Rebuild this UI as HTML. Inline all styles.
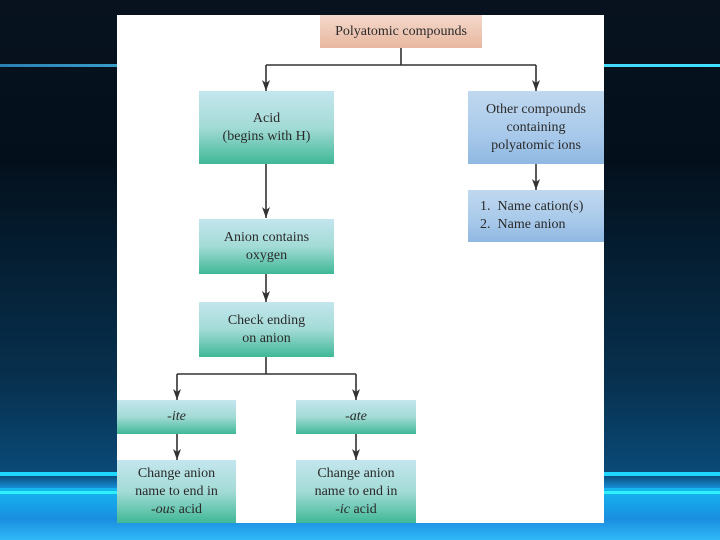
<!DOCTYPE html>
<html><head><style>
*{margin:0;padding:0;box-sizing:border-box}
body{width:720px;height:540px;position:relative;overflow:hidden;font-family:"Liberation Serif",serif;color:#2a2a2a;
background:linear-gradient(180deg,#07121e 0%,#03101c 30%,#07304e 70%,#0a4a78 88%,#1aa0f0 91%,#1a9ae8 100%);}
.ln{position:absolute;left:0;width:720px}
.panel{position:absolute;left:117px;top:15px;width:487px;height:508px;background:#fff}
.b{position:absolute;display:flex;align-items:center;justify-content:center;text-align:center;font-size:14px;line-height:18px}
.b>div{white-space:nowrap}
.g{background:linear-gradient(180deg,#c4e6ee 0%,#a3dbd6 50%,#3fb896 100%)}
.bl{background:linear-gradient(180deg,#c0d8ef 0%,#a8c9ea 60%,#8fb8e2 100%)}
.pe{background:linear-gradient(180deg,#f4d8cc,#e8b8a0)}
svg{position:absolute;left:0;top:0}
</style></head><body>
<div class="ln" style="top:64px;height:3px;background:linear-gradient(90deg,#2a7fb0,#4cc8f0 40%,#40e0ff)"></div>
<div class="ln" style="top:472px;height:4px;background:#20d8ff"></div>
<div class="ln" style="top:488px;height:52px;background:linear-gradient(180deg,#14b8f0,#1a8ee0 60%,#30b8f8)"></div>
<div class="ln" style="top:491px;height:3px;background:#30f0ff"></div>
<div class="panel"></div>
<div class="b pe" style="left:320px;top:15px;width:162px;height:33px"><div>Polyatomic compounds</div></div>
<div class="b g" style="left:199px;top:91px;width:135px;height:73px"><div>Acid<br>(begins with H)</div></div>
<div class="b bl" style="left:468px;top:91px;width:136px;height:73px"><div>Other compounds<br>containing<br>polyatomic ions</div></div>
<div class="b bl" style="left:468px;top:190px;width:136px;height:52px;justify-content:flex-start;padding-left:12px;text-align:left"><div>1.&nbsp; Name cation(s)<br>2.&nbsp; Name anion</div></div>
<div class="b g" style="left:199px;top:219px;width:135px;height:55px"><div>Anion contains<br>oxygen</div></div>
<div class="b g" style="left:199px;top:302px;width:135px;height:55px"><div>Check ending<br>on anion</div></div>
<div class="b g" style="left:117px;top:400px;width:119px;height:34px"><div><i>-ite</i></div></div>
<div class="b g" style="left:296px;top:400px;width:120px;height:34px"><div><i>-ate</i></div></div>
<div class="b g" style="left:117px;top:460px;width:119px;height:63px"><div>Change anion<br>name to end in<br><i>-ous</i> acid</div></div>
<div class="b g" style="left:296px;top:460px;width:120px;height:63px"><div>Change anion<br>name to end in<br><i>-ic</i> acid</div></div>
<svg width="720" height="540">
<g stroke="#333" stroke-width="1.6" fill="none">
<path d="M401,48V65M266,65H536"/>
<path d="M266,65V91M536,65V91M266,164V218M266,274V302M536,164V190" />
<path d="M266,357V374M177,374H356"/>
<path d="M177,374V400M356,374V400M177,434V460M356,434V460"/>
</g>
<g fill="#333">
<path d="M262,80L266,91L270,80L266,83z"/><path d="M532,80L536,91L540,80L536,83z"/>
<path d="M262,207L266,218L270,207L266,210z"/><path d="M262,291L266,302L270,291L266,294z"/>
<path d="M532,179L536,190L540,179L536,182z"/>
<path d="M173,389L177,400L181,389L177,392z"/><path d="M352,389L356,400L360,389L356,392z"/>
<path d="M173,449L177,460L181,449L177,452z"/><path d="M352,449L356,460L360,449L356,452z"/>
</g>
</svg>
</body></html>
